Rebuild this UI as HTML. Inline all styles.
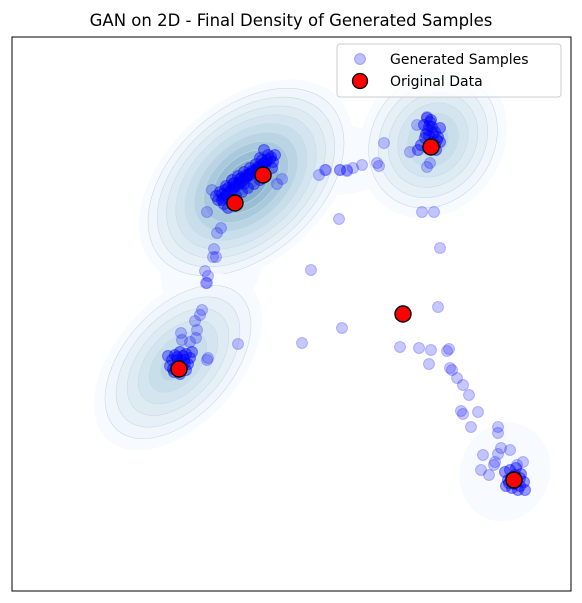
<!DOCTYPE html>
<html><head><meta charset="utf-8"><style>
html,body{margin:0;padding:0;background:#fff;}
svg{display:block;font-family:"DejaVu Sans","Liberation Sans",sans-serif;}
</style></head><body>
<svg id="chart" width="582" height="603" viewBox="0 0 582 603">
<text x="291" y="26" text-anchor="middle" font-size="16.5" fill="#000">GAN on 2D - Final Density of Generated Samples</text>
<g id="density"></g>
<g id="gen"></g>
<g id="orig"></g>
<rect x="12" y="37" width="559" height="554" fill="none" stroke="#000" stroke-width="1"/>
<g>
<rect x="337" y="44" width="224" height="53" rx="3" fill="#fff" fill-opacity="0.8" stroke="#ccc"/>
<circle cx="360" cy="59" r="5.5" fill="#0000ff" fill-opacity="0.25" stroke="#0000ff" stroke-opacity="0.25"/>
<text x="390" y="64" font-size="14">Generated Samples</text>
<circle cx="360" cy="81" r="7.5" fill="#ff0000" stroke="#000" stroke-width="1.3"/>
<text x="390" y="86" font-size="14">Original Data</text>
</g>
</svg>
<script>
const origX=[263,235,431,179,403,514];
const origY=[175,203,147,369,314,480];
const sparseX=[212,207,217,221,214,213,216,205,208,207,311,319,325,340,347,339,282,277,
326,340,347,353,362,377,379,384,422,434,440,417,427,410,427,430,
206,202,200,195,197,181,182,190,196,238,207,208,
438,342,302,400,419,431,447,449,429,450,452,457,463,469,461,463,478,471,498,498,501,510,498,483,495,494,481,489,523,517];
const sparseY=[190,212,233,228,249,257,257,271,276,283,270,175,170,170,170,219,179,184,
170,170,171,168,165,163,166,143,212,212,248,125,117,152,167,163,
283,310,315,321,330,333,340,342,338,344,360,358,
307,328,343,347,348,350,351,349,364,368,370,378,385,395,411,414,412,427,427,433,448,450,454,455,462,465,470,475,462,465];
const coreX=[222,226,230,234,238,242,246,250,254,258,262,266,270,268,262,256,250,244,238,232,226,220,224,230,236,242,248,254,260,266,272,216,228,244,260,264,275,
223,227,231,235,239,243,247,251,255,259,263,267,271,264,258,252,246,240,234,228,222,218,225,233,241,249,257,265,273,
427,430,432,428,435,438,425,432,440,421,428,436,418,424,440,429,433,437,426,431,435,429,
175,180,186,172,178,184,190,170,176,182,188,174,180,186,168,192,177,183,179,185,173,181,
505,510,515,520,508,514,520,524,506,512,518,525,516,511,517,521,509];
const coreY=[200,196,192,188,185,182,178,175,172,169,166,162,159,155,160,164,168,172,176,180,186,192,204,200,196,192,188,184,180,176,168,196,208,184,158,150,155,
198,194,190,186,183,180,176,173,170,167,164,160,157,163,167,171,175,179,183,188,194,200,190,184,178,174,170,166,162,
118,122,127,130,132,137,138,142,142,145,148,150,150,125,128,126,133,140,134,120,145,136,
355,352,354,360,360,360,358,366,366,366,364,372,374,370,356,352,357,356,363,363,369,371,
472,470,475,478,480,484,486,482,486,488,490,490,468,478,482,474,483];
const genX=sparseX.concat(coreX,coreX);
const genY=sparseY.concat(coreY,coreY);
// density clusters: center x, center y, outer radii, rotation, number of levels
const kdeCX=[246,433,178,505];
const kdeCY=[182,140,362,472];
const kdeRX=[125,82,105,50];
const kdeRY=[80,70,62,45];
const kdeRot=[-42,-55,-48,-70];
const kdeLevels=[11,7,7,1];
const XMIN=12,XMAX=571,YMIN=37,YMAX=591;
const xs=v=>12+(v-XMIN)/(XMAX-XMIN)*559;
const ys=v=>37+(v-YMIN)/(YMAX-YMIN)*554;
const NS="http://www.w3.org/2000/svg";
const dens=document.getElementById('density');
const blues=['#f7fbff','#f0f6fb','#e7f0f7','#deebf3','#d4e5ef','#c8deea','#bad4e4','#aac9dd','#99bdd5','#88b0cc','#78a4c4'];
const br=document.createElementNS(NS,'ellipse');
br.setAttribute('cx',xs(212));br.setAttribute('cy',ys(265));br.setAttribute('rx',60);br.setAttribute('ry',48);
br.setAttribute('transform',`rotate(-60 ${xs(212)} ${ys(265)})`);
br.setAttribute('fill','#f7fbff');


dens.appendChild(br);
const br2=document.createElementNS(NS,'ellipse');
br2.setAttribute('cx',xs(335));br2.setAttribute('cy',ys(160));br2.setAttribute('rx',60);br2.setAttribute('ry',35);
br2.setAttribute('fill','#f7fbff');


dens.appendChild(br2);
for(let c=0;c<kdeCX.length;c++){
  const n=kdeLevels[c];
  for(let k=0;k<n;k++){
    const f=1-k/(n+0.6);
    const e=document.createElementNS(NS,'ellipse');
    const cx=xs(kdeCX[c]),cy=ys(kdeCY[c]);
    e.setAttribute('cx',cx);e.setAttribute('cy',cy);
    e.setAttribute('rx',kdeRX[c]*f);e.setAttribute('ry',kdeRY[c]*f);
    e.setAttribute('transform',`rotate(${kdeRot[c]} ${cx} ${cy})`);
    const col=blues[Math.min(k,10)];
    e.setAttribute('fill',col);
    e.setAttribute('stroke',k>0?'#c5dbe9':'none');
    e.setAttribute('stroke-width','0.6');
    
    
    dens.appendChild(e);
  }
}
const gen=document.getElementById('gen');
for(let i=0;i<genX.length;i++){
  const p=document.createElementNS(NS,'circle');
  p.setAttribute('cx',xs(genX[i]));p.setAttribute('cy',ys(genY[i]));p.setAttribute('r',5.5);
  p.setAttribute('fill','#0000ff');p.setAttribute('fill-opacity','0.22');
  p.setAttribute('stroke','#0000ff');p.setAttribute('stroke-opacity','0.22');
  
  
  gen.appendChild(p);
}
const orig=document.getElementById('orig');
for(let i=0;i<origX.length;i++){
  const p=document.createElementNS(NS,'circle');
  p.setAttribute('cx',xs(origX[i]));p.setAttribute('cy',ys(origY[i]));p.setAttribute('r',8);
  p.setAttribute('fill','#ff0000');p.setAttribute('stroke','#000');p.setAttribute('stroke-width','1.4');
  
  
  orig.appendChild(p);
}
</script>
</body></html>
